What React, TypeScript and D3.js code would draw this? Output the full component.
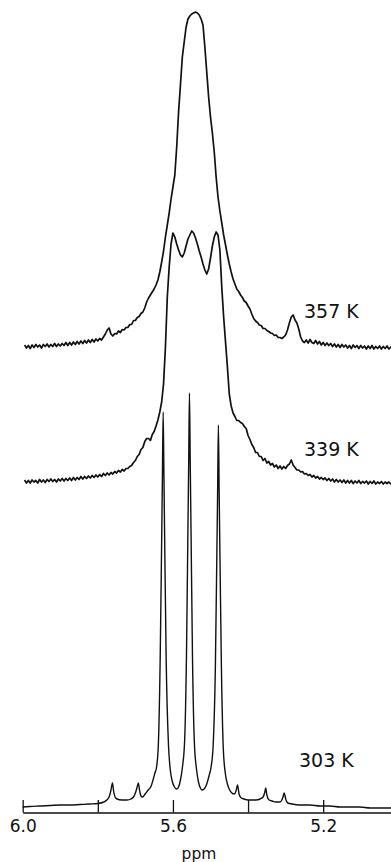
import React, { useEffect, useRef } from "react";
import * as d3 from "d3";

const width = 391;
const height = 862;

// chemical shift (ppm), signal height above the trace's own baseline
const spec357: [number, number][] = [
  [5.995, 2], [5.99, -1], [5.985, 1.5], [5.98, -1.5], [5.975, 2], [5.97, -0.5], [5.965, 2.5], [5.96, 0],
  [5.955, 2], [5.95, -1], [5.945, 2.5], [5.94, 0.5], [5.935, 3], [5.93, 0], [5.925, 2.5], [5.92, 0.5],
  [5.915, 3.5], [5.91, 0.5], [5.905, 3], [5.9, 1], [5.895, 3.5], [5.89, 1.5], [5.885, 4.5], [5.88, 1.5],
  [5.875, 4.5], [5.87, 2], [5.865, 5], [5.86, 2.5], [5.855, 5.5], [5.85, 3], [5.845, 6], [5.84, 3.5],
  [5.835, 6.5], [5.83, 4], [5.825, 7], [5.82, 4.5], [5.815, 7.5], [5.81, 5], [5.805, 8], [5.8, 6],
  [5.795, 8.5], [5.79, 7], [5.785, 10], [5.78, 13], [5.775, 17], [5.77, 19], [5.765, 13], [5.76, 11],
  [5.755, 13.5], [5.75, 13], [5.745, 16], [5.74, 14.5], [5.735, 17.5], [5.73, 17], [5.725, 19.5], [5.72, 19.5],
  [5.715, 22.5], [5.71, 22.5], [5.705, 26.5], [5.7, 26.5], [5.695, 29.5], [5.69, 30.5], [5.685, 33.5], [5.68, 35],
  [5.675, 39], [5.67, 45], [5.665, 49], [5.66, 52], [5.655, 55], [5.65, 58], [5.645, 62], [5.64, 67],
  [5.635, 75], [5.63, 85], [5.625, 96], [5.62, 110], [5.615, 122], [5.61, 134], [5.605, 148], [5.6, 160],
  [5.595, 172], [5.59, 200], [5.585, 235], [5.58, 262], [5.575, 290], [5.57, 305], [5.565, 320], [5.56, 328],
  [5.555, 331], [5.55, 333], [5.545, 334], [5.54, 335], [5.535, 334], [5.53, 332], [5.525, 328], [5.52, 322],
  [5.515, 300], [5.51, 275], [5.505, 250], [5.5, 230], [5.495, 214], [5.49, 195], [5.485, 170], [5.48, 150],
  [5.475, 136], [5.47, 124], [5.465, 112], [5.46, 102], [5.455, 92], [5.45, 83], [5.445, 75], [5.44, 68],
  [5.435, 63], [5.43, 58], [5.425, 55.5], [5.42, 52], [5.415, 49.5], [5.41, 46], [5.405, 44.5], [5.4, 41],
  [5.395, 38], [5.39, 33], [5.385, 28.5], [5.38, 26], [5.375, 24.5], [5.37, 22], [5.365, 21.5], [5.36, 18.5],
  [5.355, 18.5], [5.35, 16.5], [5.345, 15.5], [5.34, 14], [5.335, 13.5], [5.33, 11.5], [5.325, 12], [5.32, 9.5],
  [5.315, 9.5], [5.31, 8.5], [5.305, 10], [5.3, 12], [5.295, 17], [5.29, 24], [5.285, 30], [5.28, 32],
  [5.275, 27], [5.27, 24], [5.265, 18], [5.26, 10], [5.255, 6], [5.25, 4.5], [5.245, 7], [5.24, 4],
  [5.235, 7.5], [5.23, 4.5], [5.225, 3.5], [5.22, 6.5], [5.215, 3], [5.21, 5.5], [5.205, 2], [5.2, 4.5],
  [5.195, 1.5], [5.19, 4], [5.185, 1.5], [5.18, 3.5], [5.175, 0.5], [5.17, 3], [5.165, 0], [5.16, 2.5],
  [5.155, -0.5], [5.15, 2.5], [5.145, 0], [5.14, 2], [5.135, -1], [5.13, 1.5], [5.125, -1.5], [5.12, 2],
  [5.115, -0.5], [5.11, 1.5], [5.105, -1.5], [5.1, 1.5], [5.095, -1], [5.09, 1], [5.085, -2], [5.08, 1],
  [5.075, -1.5], [5.07, 1.5], [5.065, -2], [5.06, 0.5], [5.055, -1.5], [5.05, 1], [5.045, -2], [5.04, 0.5],
  [5.035, -1.5], [5.03, 1], [5.025, -2], [5.02, 0], [5.015, -1.5],
];

const spec339: [number, number][] = [
  [5.995, 2], [5.99, -1], [5.985, 1.5], [5.98, -1], [5.975, 2], [5.97, 0], [5.965, 1.5], [5.96, -1],
  [5.955, 2.5], [5.95, 0], [5.945, 2], [5.94, -0.5], [5.935, 2.5], [5.93, 0.5], [5.925, 3], [5.92, 0.5],
  [5.915, 2.5], [5.91, 0], [5.905, 3], [5.9, 1], [5.895, 3.5], [5.89, 1], [5.885, 3.5], [5.88, 1.5],
  [5.875, 4], [5.87, 1.5], [5.865, 4.5], [5.86, 2], [5.855, 4.5], [5.85, 2.5], [5.845, 5.5], [5.84, 3],
  [5.835, 5.5], [5.83, 3.5], [5.825, 6], [5.82, 4], [5.815, 6.5], [5.81, 4.5], [5.805, 7], [5.8, 5],
  [5.795, 7.5], [5.79, 5.5], [5.785, 8.5], [5.78, 6.5], [5.775, 9], [5.77, 7], [5.765, 9.5], [5.76, 8],
  [5.755, 10.5], [5.75, 9], [5.745, 11.5], [5.74, 10], [5.735, 12.5], [5.73, 11], [5.725, 13.5], [5.72, 13.5],
  [5.715, 15.5], [5.71, 16.5], [5.705, 19.5], [5.7, 21.5], [5.695, 25.5], [5.69, 27.5], [5.685, 32.5], [5.68, 34.5],
  [5.675, 40.5], [5.67, 43.5], [5.665, 43.5], [5.66, 41.5], [5.655, 47.5], [5.65, 50.5], [5.645, 56], [5.64, 62],
  [5.635, 70], [5.63, 80], [5.625, 98], [5.62, 135], [5.615, 185], [5.61, 215], [5.605, 238], [5.6, 249],
  [5.595, 245], [5.59, 238], [5.585, 232], [5.58, 227], [5.575, 225], [5.57, 229], [5.565, 236], [5.56, 243],
  [5.555, 247], [5.55, 251], [5.545, 249], [5.54, 244], [5.535, 238], [5.53, 231], [5.525, 225], [5.52, 218],
  [5.515, 212], [5.51, 208], [5.505, 213], [5.5, 224], [5.495, 236], [5.49, 245], [5.485, 250], [5.48, 247],
  [5.475, 232], [5.47, 195], [5.465, 165], [5.46, 140], [5.455, 115], [5.45, 88], [5.445, 76], [5.44, 69],
  [5.435, 65.5], [5.43, 61.5], [5.425, 61.5], [5.42, 59.5], [5.415, 58.5], [5.41, 55.5], [5.405, 53.5], [5.4, 46.5],
  [5.395, 42.5], [5.39, 37.5], [5.385, 34.5], [5.38, 29.5], [5.375, 29.5], [5.37, 25.5], [5.365, 25.5], [5.36, 21.5],
  [5.355, 23.5], [5.35, 19], [5.345, 20.5], [5.34, 17], [5.335, 18.5], [5.33, 15], [5.325, 17], [5.32, 13.5],
  [5.315, 16], [5.31, 13], [5.305, 15.5], [5.3, 13.5], [5.295, 16.5], [5.29, 18], [5.285, 22], [5.28, 17],
  [5.275, 14.5], [5.27, 12], [5.265, 12], [5.26, 10], [5.255, 10.5], [5.25, 8], [5.245, 8.5], [5.24, 6.5],
  [5.235, 7.5], [5.23, 5], [5.225, 6.5], [5.22, 4], [5.215, 5.5], [5.21, 3], [5.205, 4.5], [5.2, 2.5],
  [5.195, 4], [5.19, 1.5], [5.185, 3.5], [5.18, 1], [5.175, 3], [5.17, 0], [5.165, 2.5], [5.16, 0],
  [5.155, 2], [5.15, -0.5], [5.145, 2], [5.14, -1], [5.135, 1.5], [5.13, -1], [5.125, 1.5], [5.12, -1.5],
  [5.115, 1], [5.11, -1], [5.105, 1.5], [5.1, -1.5], [5.095, 0.5], [5.09, -1], [5.085, 1], [5.08, -2],
  [5.075, 0.5], [5.07, -1.5], [5.065, 1], [5.06, -2], [5.055, 0], [5.05, -1.5], [5.045, 0.5], [5.04, -2],
  [5.035, 0], [5.03, -1.5], [5.025, 0], [5.02, -2], [5.015, -0.5],
];

const spec303: [number, number][] = [
  [6.0, -1], [5.981, -0.5], [5.954, 0], [5.927, 0.5], [5.901, 1], [5.874, 1], [5.847, 1.5], [5.821, 2],
  [5.8, 2.5], [5.784, 4], [5.776, 6], [5.769, 10], [5.765, 16], [5.761, 23], [5.758, 15], [5.754, 9],
  [5.749, 7], [5.736, 6], [5.722, 6], [5.712, 7], [5.705, 9], [5.7, 13], [5.696, 18], [5.692, 23],
  [5.689, 16], [5.685, 10], [5.681, 9], [5.674, 12], [5.666, 16], [5.658, 20], [5.653, 26], [5.648, 33],
  [5.644, 38], [5.639, 60], [5.634, 146], [5.63, 266], [5.628, 330], [5.626, 394], [5.624, 330], [5.622, 266],
  [5.618, 146], [5.612, 62], [5.607, 36], [5.602, 25], [5.596, 19], [5.59, 17], [5.585, 19], [5.58, 26],
  [5.575, 38], [5.569, 64], [5.564, 150], [5.56, 280], [5.558, 345], [5.556, 413], [5.554, 345], [5.552, 280],
  [5.548, 150], [5.543, 64], [5.537, 36], [5.532, 24], [5.527, 18], [5.523, 16], [5.517, 17], [5.511, 21],
  [5.504, 30], [5.498, 40], [5.493, 60], [5.487, 140], [5.483, 255], [5.481, 315], [5.479, 381], [5.477, 315],
  [5.475, 255], [5.471, 140], [5.466, 58], [5.461, 34], [5.455, 22], [5.449, 16], [5.443, 13], [5.437, 12],
  [5.432, 15], [5.428, 21], [5.424, 12], [5.418, 8], [5.411, 7], [5.4, 6], [5.389, 6], [5.379, 6],
  [5.368, 7], [5.36, 9], [5.356, 13], [5.353, 18], [5.35, 11], [5.344, 6], [5.336, 5], [5.326, 4],
  [5.315, 4], [5.31, 6], [5.307, 9], [5.304, 13], [5.299, 6], [5.294, 3], [5.283, 2], [5.262, 1],
  [5.235, 1], [5.208, 0], [5.182, 0], [5.155, -1], [5.128, -1], [5.102, -1], [5.075, -2], [5.049, -2],
  [5.019, -2],
];

const traces = [
  { label: "357 K", data: spec357, offset: 459, curve: d3.curveLinear, lx: 304, ly: 318 },
  { label: "339 K", data: spec339, offset: 324, curve: d3.curveLinear, lx: 304, ly: 456 },
  { label: "303 K", data: spec303, offset: 0, curve: d3.curveMonotoneX, lx: 299, ly: 767 },
];

const xTicks = [6.0, 5.8, 5.6, 5.4, 5.2];
const xTickLabels = [6.0, 5.6, 5.2];
const xTitle = "ppm";

const font = "'DejaVu Sans', sans-serif";
const ink = "#111";

export default function App() {
  const axisRef = useRef<SVGGElement>(null);

  const x = d3.scaleLinear().domain([6.0, 5.0]).range([22.7, 398.3]);
  const y = d3.scaleLinear().domain([0, 800]).range([806, 6]);

  useEffect(() => {
    if (!axisRef.current) return;
    const g = d3.select(axisRef.current);
    g.selectAll("*").remove();
    g.call(
      d3
        .axisBottom(x)
        .tickValues(xTicks)
        .tickSizeInner(-12.5)
        .tickSizeOuter(0)
        .tickPadding(7.5)
        .tickFormat((d) => (xTickLabels.includes(+d) ? d3.format(".1f")(+d) : "")),
    );
    g.select(".domain").attr("stroke", ink).attr("stroke-width", 1.4);
    g.selectAll(".tick line").attr("stroke", ink).attr("stroke-width", 1.3);
    g.selectAll(".tick text")
      .attr("fill", ink)
      .style("font-family", font)
      .style("font-size", "17px");
  }, []);

  return (
    <svg
      width={width}
      height={height}
      style={{ position: "absolute", left: 0, top: 0, background: "#fff" }}
    >
      {traces.map((t) => {
        const line = d3
          .line<[number, number]>()
          .x((d) => x(d[0]))
          .y((d) => y(d[1] + t.offset))
          .curve(t.curve);
        return (
          <g key={t.label}>
            <path
              d={line(t.data) ?? ""}
              fill="none"
              stroke={ink}
              strokeWidth={t.offset === 0 ? 1.4 : 1.7}
              strokeLinejoin="round"
            />
            <text x={t.lx} y={t.ly} fontFamily={font} fontSize={19} fill={ink}>
              {t.label}
            </text>
          </g>
        );
      })}
      <g ref={axisRef} transform="translate(0,812.5)" />
      <text
        x={199}
        y={859}
        textAnchor="middle"
        fontFamily={font}
        fontSize={15.5}
        fill={ink}
      >
        {xTitle}
      </text>
    </svg>
  );
}
